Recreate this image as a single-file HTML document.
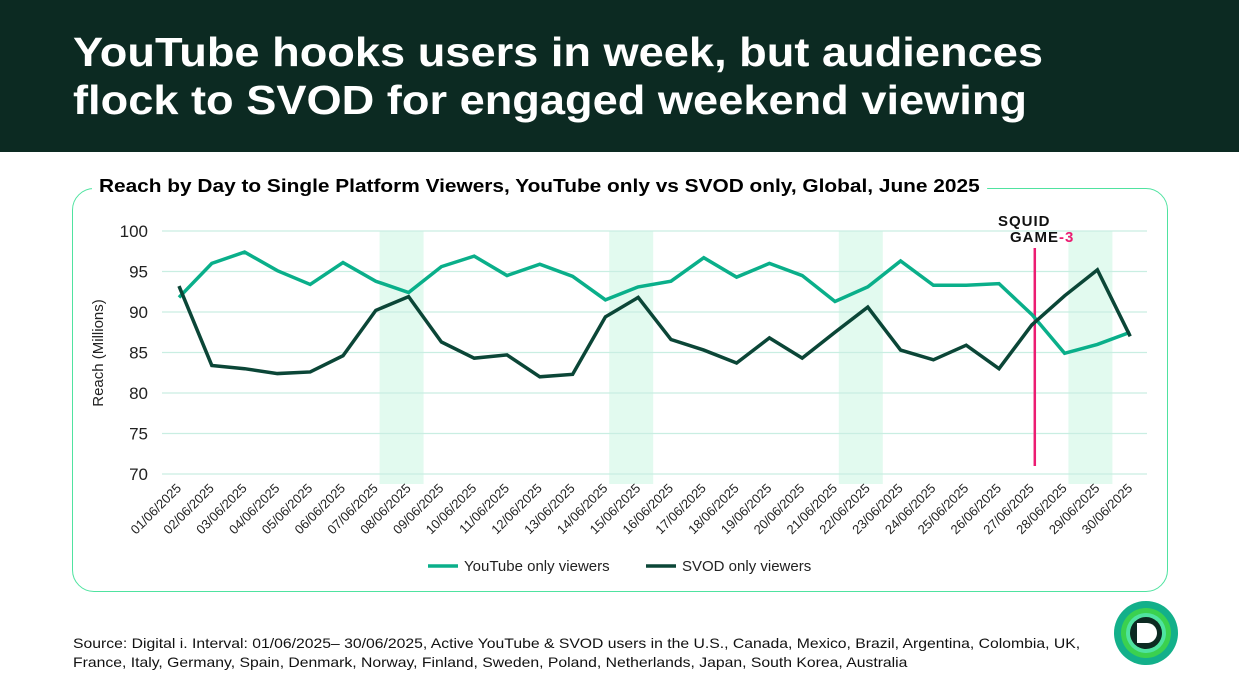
<!DOCTYPE html>
<html><head><meta charset="utf-8"><style>
body{margin:0;width:1239px;height:696px;overflow:hidden;background:#fff;font-family:"Liberation Sans",sans-serif;position:relative}
#hdr{position:absolute;left:0;top:0;width:1239px;height:152px;background:#0c2a22}
#hdr h1{position:absolute;left:73px;top:28px;margin:0;color:#fff;font-size:41px;line-height:48px;font-weight:bold;white-space:nowrap;transform:scaleX(1.102);transform-origin:0 0}
#box{position:absolute;left:72px;top:188px;width:1094px;height:402px;border:1.5px solid #4fe3a0;border-radius:22px}
#ctitle{position:absolute;left:92px;top:176px;background:#fff;padding:0 6px;font-size:18px;font-weight:bold;color:#000;white-space:nowrap;transform:scaleX(1.158);transform-origin:0 0}
#src{position:absolute;left:73px;top:634px;font-size:14px;line-height:19px;color:#111;white-space:nowrap;transform:scaleX(1.124);transform-origin:0 0}
svg{position:absolute;left:0;top:0}
</style></head><body>
<div id="hdr"><h1>YouTube hooks users in week, but audiences<br>flock to SVOD for engaged weekend viewing</h1></div>
<div id="box"></div>
<div id="ctitle">Reach by Day to Single Platform Viewers, YouTube only vs SVOD only, Global, June 2025</div>
<svg id="chart" width="1239" height="696"></svg>
<div id="src">Source: Digital i. Interval: 01/06/2025– 30/06/2025, Active YouTube &amp; SVOD users in the U.S., Canada, Mexico, Brazil, Argentina, Colombia, UK,<br>France, Italy, Germany, Spain, Denmark, Norway, Finland, Sweden, Poland, Netherlands, Japan, South Korea, Australia</div>
<svg width="1239" height="696">
<circle cx="1146" cy="633" r="32" fill="#13b08a"/><circle cx="1146" cy="633" r="25" fill="#3bd14f"/><circle cx="1146" cy="633" r="20" fill="#4fe3a0"/><circle cx="1146" cy="633" r="16" fill="#0c2a22"/>
<path d="M1137 623 h10 a10 10 0 0 1 0 20 h-10 z" fill="#fff"/>
</svg>
<script>
const days=[];for(let i=1;i<=30;i++)days.push(String(i).padStart(2,'0')+'/06/2025');
const youtube=[91.8,96,97.4,95.1,93.4,96.1,93.8,92.4,95.6,96.9,94.5,95.9,94.4,91.5,93.1,93.8,96.7,94.3,96,94.5,91.3,93.1,96.3,93.3,93.3,93.5,89.7,84.9,86.0,87.5];
const svod=[93.2,83.4,83.0,82.4,82.6,84.6,90.2,91.9,86.3,84.3,84.7,82.0,82.3,89.4,91.8,86.6,85.3,83.7,86.8,84.3,87.5,90.6,85.3,84.1,85.9,83.0,88.4,92.0,95.2,87.0];
const yTicks=[70,75,80,85,90,95,100];
const weekendDays=[8,15,22,29];
const eventDay=27;
const NS='http://www.w3.org/2000/svg';const svg=document.getElementById('chart');
const x=i=>179+i*32.8;const y=v=>474-(v-70)*8.1;
function mk(t,a,p){const e=document.createElementNS(NS,t);for(const k in a)e.setAttribute(k,a[k]);(p||svg).appendChild(e);return e;}
weekendDays.forEach(d=>{const e=mk('rect',{x:x(d-1)-29,y:231,width:44,height:253,fill:'#e2faef'});

});
yTicks.forEach(t=>{const g=mk('line',{x1:162,x2:1147,y1:y(t),y2:y(t),stroke:'#c9eee2','stroke-width':1.2});


const l=mk('text',{x:148,y:y(t)+6,'text-anchor':'end','font-size':17,fill:'#222'});l.textContent=t;

});
const yt=mk('text',{transform:'translate(103,353) rotate(-90)','text-anchor':'middle','font-size':15,fill:'#222'});yt.textContent='Reach (Millions)';


days.forEach((d,i)=>{const t=mk('text',{transform:`translate(${x(i)+3},489) rotate(-45)`,'text-anchor':'end','font-size':13,fill:'#222'});t.textContent=d;

});
const ex=x(eventDay-1)+3;
const pl=mk('line',{x1:ex,x2:ex,y1:248,y2:466,stroke:'#ec1c72','stroke-width':2.5});


const sg1=mk('text',{x:998,y:226,'font-size':15,fill:'#111','font-weight':'bold','letter-spacing':'1'});sg1.textContent='SQUID';


const sg2=mk('text',{x:1010,y:242,'font-size':15,fill:'#111','font-weight':'bold','letter-spacing':'1'});sg2.innerHTML='GAME<tspan fill="#ec1c72">-3</tspan>';


function line(vals,col,name){const p=mk('polyline',{points:vals.map((v,i)=>x(i)+','+y(v)).join(' '),fill:'none',stroke:col,'stroke-width':3.5,'stroke-linejoin':'miter'});

}
line(youtube,'#0aaf8a','youtube-line');line(svod,'#0b4637','svod-line');
[[428,'#0aaf8a','YouTube only viewers','legend-youtube'],[646,'#0b4637','SVOD only viewers','legend-svod']].forEach(([lx,c,t,n])=>{
const g=mk('g',{});


mk('line',{x1:lx,x2:lx+30,y1:566,y2:566,stroke:c,'stroke-width':3.5},g);
const tx=mk('text',{x:lx+36,y:571,'font-size':15,fill:'#222'},g);tx.textContent=t;});
</script>
</body></html>
